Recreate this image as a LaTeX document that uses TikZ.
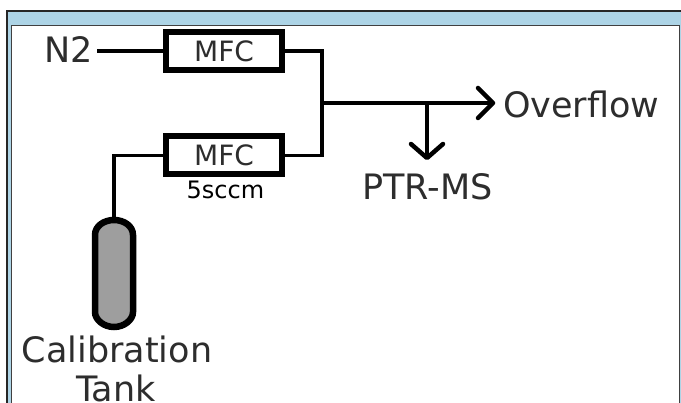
\documentclass[tikz,border=0pt]{standalone}
\usepackage{fontspec}
\setmainfont{DejaVu Sans}
\usetikzlibrary{calc}
\definecolor{band}{RGB}{173,212,230}
\definecolor{txt}{RGB}{45,45,45}
\tikzset{
  x=1pt,y=-1pt,
  mfcbox/.style={draw=black,line width=6pt,fill=white,minimum width=116pt,minimum height=38pt,inner sep=0pt,font=\fontsize{28}{28}\selectfont,text=txt},
  label/.style={inner sep=0pt,text=txt,font=\fontsize{35}{35}\selectfont},
  small/.style={inner sep=0pt,text=black,font=\fontsize{24}{24}\selectfont},
  pipe/.style={draw=black,line width=3.6pt,line join=miter},
  tip/.style={draw=black,line width=4.5pt,line cap=round,line join=round},
}
\begin{document}
\begin{tikzpicture}
\useasboundingbox (0,0) rectangle (681,403);
\fill[white] (0,0) rectangle (681,403);
\fill[band] (7,11) rectangle (681,403);
\draw[line width=2.2pt,color=black!85] (7,403) -- (7,11) -- (681,11);
\fill[white] (11.5,25) rectangle (679,403);
\draw[line width=0.9pt,color=black!75] (11.5,403) -- (11.5,25) -- (679,25) -- (679,403);
\node[mfcbox] (m1) at (224,51) {MFC};
\node[mfcbox] (m2) at (224,155.5) {MFC};
\node[small,anchor=base] (rate) at (225.5,199) {5sccm};
\node[label,anchor=base] (n2) at (68.5,63) {N2};
\node[label,anchor=base west] (over) at (503,118) {Overflow};
\node[label,anchor=base] (ptr) at (427.5,200) {PTR-MS};
\node[label,anchor=base] (cal) at (117,363) {Calibration};
\node[label,anchor=base] (tank) at (116,402) {Tank};
\coordinate (j) at (322,103);
\coordinate (b) at (427,103);
\coordinate (oe) at (493,103);
\coordinate (pe) at (427,158);
\coordinate (tt) at (114,217);
\draw[pipe] (97,51) -- (m1.west);
\draw[pipe] (m1.east) -| (j) |- (m2.east);
\draw[pipe] (j) -- (oe);
\draw[pipe] (b) -- (pe);
\draw[pipe] (m2.west) -| (tt);
\draw[tip] (478,88) -- (oe) -- (478,118);
\draw[tip] (411,144) -- (pe) -- (443,144);
\draw[draw=black,fill=black!38,line width=6.5pt]
  (95,235) .. controls (95,226) and (104,220) .. (114,220)
  .. controls (124,220) and (133,226) .. (133,235)
  -- (133,312) .. controls (133,320) and (124,327) .. (114,327)
  .. controls (104,327) and (95,320) .. (95,312) -- cycle;
\end{tikzpicture}
\end{document}
